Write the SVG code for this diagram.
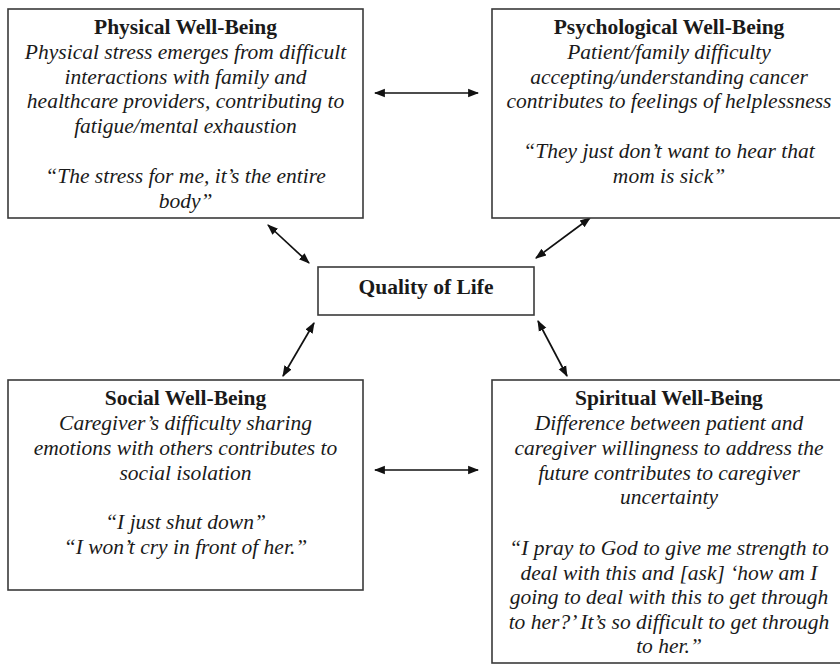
<svg xmlns="http://www.w3.org/2000/svg" width="840" height="665" viewBox="0 0 840 665">
<style>
.box{fill:#fff;stroke:#3a3a3a;stroke-width:1.6}
.c{stroke:#111;stroke-width:1.7;fill:none;marker-start:url(#ah);marker-end:url(#ah)}
text{font-family:'Liberation Serif',serif;font-size:21.5px;fill:#1a1a1a;text-anchor:middle}
.t{font-weight:bold}
.i{font-style:italic}
</style>
<defs>
<marker id="ah" viewBox="0 0 10 10" refX="9" refY="5" markerWidth="11" markerHeight="11" markerUnits="userSpaceOnUse" orient="auto-start-reverse">
<path d="M0,1.2 L10,5 L0,8.8 Z" fill="#111"/>
</marker>
</defs>
<rect width="840" height="665" fill="#fff"/>
<g id="connectors">
<line class="c" x1="375" y1="93" x2="478" y2="93"/>
<line class="c" x1="375" y1="470" x2="478" y2="470"/>
<line class="c" x1="268" y1="225" x2="309" y2="263"/>
<line class="c" x1="590" y1="218" x2="536" y2="258"/>
<line class="c" x1="314" y1="323" x2="283" y2="376"/>
<line class="c" x1="538" y1="321" x2="567" y2="376"/>
</g>
<g id="physical">
<rect class="box" x="8" y="9" width="355" height="209"/>
<text class="t" x="185.5" y="34">Physical Well-Being</text>
<text class="i" x="185.5" y="59">Physical stress emerges from difficult</text>
<text class="i" x="185.5" y="83.5">interactions with family and</text>
<text class="i" x="185.5" y="108">healthcare providers, contributing to</text>
<text class="i" x="185.5" y="133">fatigue/mental exhaustion</text>
<text class="i" x="185.5" y="183">“The stress for me, it’s the entire</text>
<text class="i" x="185.5" y="207.5">body”</text>
</g>
<g id="psychological">
<rect class="box" x="492" y="9" width="354" height="209"/>
<text class="t" x="669" y="34">Psychological Well-Being</text>
<text class="i" x="669" y="59">Patient/family difficulty</text>
<text class="i" x="669" y="83.5">accepting/understanding cancer</text>
<text class="i" x="669" y="108">contributes to feelings of helplessness</text>
<text class="i" x="669" y="158">“They just don’t want to hear that</text>
<text class="i" x="669" y="183">mom is sick”</text>
</g>
<g id="quality">
<rect class="box" x="318" y="267" width="216" height="48"/>
<text class="t" x="426" y="294">Quality of Life</text>
</g>
<g id="social">
<rect class="box" x="8" y="380" width="355" height="210"/>
<text class="t" x="185.5" y="405">Social Well-Being</text>
<text class="i" x="185.5" y="430">Caregiver’s difficulty sharing</text>
<text class="i" x="185.5" y="455">emotions with others contributes to</text>
<text class="i" x="185.5" y="480">social isolation</text>
<text class="i" x="185.5" y="529">“I just shut down”</text>
<text class="i" x="185.5" y="554">“I won’t cry in front of her.”</text>
</g>
<g id="spiritual">
<rect class="box" x="492" y="380" width="354" height="283"/>
<text class="t" x="669" y="405">Spiritual Well-Being</text>
<text class="i" x="669" y="430">Difference between patient and</text>
<text class="i" x="669" y="455">caregiver willingness to address the</text>
<text class="i" x="669" y="480">future contributes to caregiver</text>
<text class="i" x="669" y="504">uncertainty</text>
<text class="i" x="669" y="555">“I pray to God to give me strength to</text>
<text class="i" x="669" y="579.5">deal with this and [ask] ‘how am I</text>
<text class="i" x="669" y="604">going to deal with this to get through</text>
<text class="i" x="669" y="628.5">to her?’ It’s so difficult to get through</text>
<text class="i" x="669" y="653">to her.”</text>
</g>
</svg>
